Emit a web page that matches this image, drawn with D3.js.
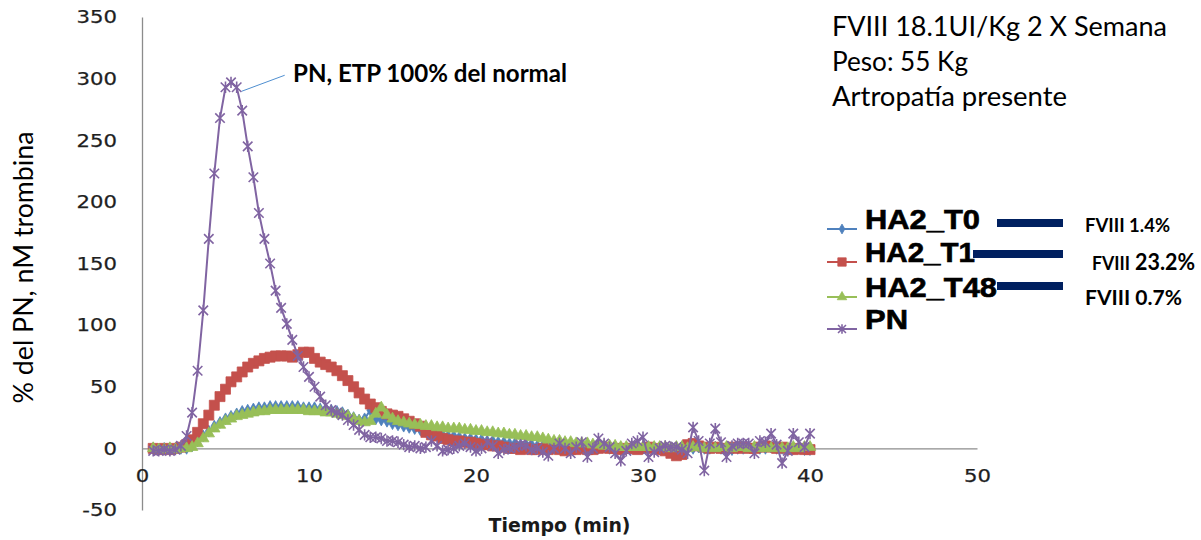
<!DOCTYPE html>
<html>
<head>
<meta charset="utf-8">
<script src="https://cdn.jsdelivr.net/npm/d3@7"></script>
<style>
  body { margin: 0; background: #ffffff; }
  svg { display: block; }
</style>
</head>
<body>
<svg id="chart" width="1201" height="540"></svg>
<script>
// Sampling times (min), one reading every 20 s
const tiempo = [
  0.67, 1.00, 1.33, 1.67, 2.00, 2.33, 2.67, 3.00, 3.33, 3.67,
  4.00, 4.33, 4.67, 5.00, 5.33, 5.67, 6.00, 6.33, 6.67, 7.00,
  7.33, 7.67, 8.00, 8.33, 8.67, 9.00, 9.33, 9.67, 10.00, 10.33,
  10.67, 11.00, 11.33, 11.67, 12.00, 12.33, 12.67, 13.00, 13.33, 13.67,
  14.00, 14.33, 14.67, 15.00, 15.33, 15.67, 16.00, 16.33, 16.67, 17.00,
  17.33, 17.67, 18.00, 18.33, 18.67, 19.00, 19.33, 19.67, 20.00, 20.33,
  20.67, 21.00, 21.33, 21.67, 22.00, 22.33, 22.67, 23.00, 23.33, 23.67,
  24.00, 24.33, 24.67, 25.00, 25.33, 25.67, 26.00, 26.33, 26.67, 27.00,
  27.33, 27.67, 28.00, 28.33, 28.67, 29.00, 29.33, 29.67, 30.00, 30.33,
  30.67, 31.00, 31.33, 31.67, 32.00, 32.33, 32.67, 33.00, 33.33, 33.67,
  34.00, 34.33, 34.67, 35.00, 35.33, 35.67, 36.00, 36.33, 36.67, 37.00,
  37.33, 37.67, 38.00, 38.33, 38.67, 39.00, 39.33, 39.67, 40.00
];

// Thrombin generation, % of normal pool
const ha2T0 = [
  0, -1, 0, -1, 0, 0, 0, 2, 6, 10,
  14, 18, 21, 24, 26, 28, 30, 31, 32, 33,
  33, 34, 34, 34, 34, 34, 34, 33, 33, 33,
  32, 32, 31, 30, 29, 27, 25, 23, 24, 31,
  24, 23, 22, 20, 19, 18, 17, 16, 15, 14,
  13, 12, 11, 10, 10, 9, 8, 8, 7, 7,
  6, 6, 5, 5, 4, 4, 3, 3, 3, 2,
  2, 2, 2, 1, 1, 1, 1, 1, 0, 0,
  0, 1, 0, 0, -1, 0, 0, 1, 0, 0,
  0, 0, -1, 0, 0, 1, 0, 0, 1, 0,
  0, 1, 0, 0, -1, 0, 0, 1, 0, 0,
  0, 1, 0, 0, -1, 0, 0, -1, -1
];

const ha2T1 = [
  0, -1, 0, -1, 0, 1, 3, 7, 13, 20,
  27, 35, 42, 48, 54, 58, 62, 66, 69, 71,
  73, 74, 75, 75, 75, 74, 76, 78, 78, 73,
  70, 68, 66, 63, 59, 55, 50, 45, 40, 36,
  33, 30, 28, 27, 26, 24, 22, 20, 18, 13,
  11, 10, 8, 7, 6, 6, 5, 5, 4, 3,
  3, 2, 2, 1, 0, 0, -1, 0, -1, -1,
  0, -1, 0, -1, -2, -1, -1, 0, -1, -1,
  0, 1, 0, 0, -1, 0, 0, -1, 0, 1,
  0, -1, -2, -4, -6, -5, 3, 4, 2, 1,
  0, 1, 0, 0, 1, 0, 1, 0, 0, 1,
  2, 1, 0, 1, 0, -1, 0, -1, -1
];

const ha2T48 = [
  0, -1, -1, 0, -1, 0, 0, 1, 4, 8,
  12, 16, 19, 22, 24, 26, 27, 28, 29, 30,
  30, 31, 31, 31, 31, 31, 31, 31, 30, 30,
  30, 29, 29, 28, 27, 26, 24, 22, 21, 22,
  28, 33, 27, 24, 22, 21, 20, 19, 19, 18,
  18, 17, 17, 16, 16, 16, 15, 15, 14, 14,
  13, 13, 12, 12, 11, 11, 10, 10, 9, 9,
  8, 7, 6, 6, 5, 5, 4, 4, 4, 3,
  3, 2, 2, 2, 1, 1, 1, 1, 1, 1,
  1, 1, 1, 0, 1, 1, 0, 1, 1, 0,
  1, 0, 1, 1, 0, 1, 1, 0, 1, 0,
  1, 0, 1, 0, 0, 1, 0, 1, 1
];

const pn = [
  -2, -2, -1, -2, -1, 2, 10, 29, 63, 112,
  170, 223, 268, 293, 297, 293, 274, 245, 220, 191,
  170, 150, 128, 114, 101, 88, 75, 66, 58, 50,
  42, 35, 31, 29, 27, 23, 19, 15, 11, 9,
  9, 8, 6, 6, 5, 3, 1, 2, 0, 1,
  6, 2, -2, -1, 0, 2, 4, 1, -2, 0,
  5, 2, -4, -1, 0, 1, 3, 2, -1, 0,
  -3, -6, 0, 4, 0, -4, 1, 5, -7, 0,
  8, 4, 1, -4, -10, -2, 4, 6, 9, -7,
  -3, 0, 2, 1, 1, -1, -4, 17, 6, -18,
  4, 16, 5, -7, 2, 4, 4, 4, -4, 6,
  5, 12, 3, -12, -2, 12, 5, 1, 12
];

const seriesNames = ["HA2_T0", "HA2_T1", "HA2_T48", "PN"];
const xTicks = [0, 10, 20, 30, 40, 50];
const yTicks = [-50, 0, 50, 100, 150, 200, 250, 300, 350];
const infoLines = ["FVIII 18.1UI/Kg 2 X Semana", "Peso: 55 Kg", "Artropatía presente"];
const fviiiLevels = ["1.4%", "23.2%", "0.7%"];
const peakLabel = "PN, ETP 100% del normal";
const yTitle = "% del PN, nM trombina";
const xTitle = "Tiempo (min)";

// ---------------------------------------------------------------
const svg = d3.select("#chart");
const x = d3.scaleLinear().domain([0, 50]).range([142, 977]);
const y = d3.scaleLinear().domain([-50, 350]).range([510, 17]);

// Asterisk-style marker (X with a vertical stroke)
const starSymbol = {
  draw(ctx, size) {
    const r = Math.sqrt(size) / 2;
    ctx.moveTo(-r, -r); ctx.lineTo(r, r);
    ctx.moveTo(-r, r); ctx.lineTo(r, -r);
    ctx.moveTo(0, -r * 1.2); ctx.lineTo(0, r * 1.2);
  }
};

const styles = [
  { color: "#4f81bd", symbol: d3.symbolDiamond, size: 40, filled: true },
  { color: "#c4504c", symbol: d3.symbolSquare, size: 100, filled: true },
  { color: "#98bf58", symbol: d3.symbolTriangle, size: 56, filled: true },
  { color: "#8064a2", symbol: starSymbol, size: 90, filled: false }
];
const seriesValues = [ha2T0, ha2T1, ha2T48, pn];

function stretch(sel, k) {
  sel.each(function () {
    const w = this.getComputedTextLength();
    this.setAttribute("textLength", (w * k).toFixed(1));
    this.setAttribute("lengthAdjust", "spacingAndGlyphs");
  });
}

// Axes (plain hyphen for negative labels)
const fmt = d => String(d);
const yAxis = svg.append("g")
  .attr("transform", `translate(${x(0)},0)`)
  .call(d3.axisLeft(y).tickValues(yTicks).tickFormat(fmt).tickSize(0).tickPadding(25));
const xAxis = svg.append("g")
  .attr("transform", `translate(0,${y(0)})`)
  .call(d3.axisBottom(x).tickValues(xTicks).tickFormat(fmt).tickSize(0).tickPadding(21));
[yAxis, xAxis].forEach(ax => {
  ax.select(".domain").attr("stroke", "#8c8c8c").attr("stroke-width", 1.3);
  ax.selectAll("text")
    .attr("font-family", "DejaVu Sans")
    .attr("font-size", 18)
    .attr("fill", "#1f1f1f")
    .attr("stroke", "#1f1f1f")
    .attr("stroke-width", 0.25);
  stretch(ax.selectAll("text"), 1.18);
});

// Series: lines then markers
seriesValues.forEach((vals, si) => {
  const st = styles[si];
  const pts = tiempo.map((t, i) => [t, vals[i]]);
  const g = svg.append("g").attr("class", "series-" + si);
  g.append("path")
    .datum(pts)
    .attr("fill", "none")
    .attr("stroke", st.color)
    .attr("stroke-width", 2)
    .attr("d", d3.line().x(d => x(d[0])).y(d => y(d[1])));
  const sym = d3.symbol().type(st.symbol).size(st.size);
  g.selectAll("path.m")
    .data(pts)
    .join("path")
    .attr("class", "m")
    .attr("transform", d => `translate(${x(d[0])},${y(d[1])})`)
    .attr("d", sym)
    .attr("fill", st.filled ? st.color : "none")
    .attr("stroke", st.color)
    .attr("stroke-width", st.filled ? 0.8 : 1.6);
});

// Peak annotation for the normal pool
const iPeak = pn.indexOf(d3.max(pn));
const px0 = x(tiempo[iPeak + 1]) + 5, py0 = y(pn[iPeak + 1]) + 4;
svg.append("line")
  .attr("x1", px0).attr("y1", py0)
  .attr("x2", px0 + 43).attr("y2", py0 - 16)
  .attr("stroke", "#4f8fd0").attr("stroke-width", 1);
svg.append("text")
  .attr("x", 293).attr("y", 82)
  .attr("font-family", "Lato").attr("font-weight", 700).attr("font-size", 24)
  .attr("fill", "#000")
  .attr("textLength", 274).attr("lengthAdjust", "spacingAndGlyphs")
  .text(peakLabel);

// Axis titles
svg.append("text")
  .attr("transform", `translate(33,${y(150) + 4}) rotate(-90)`)
  .attr("text-anchor", "middle")
  .attr("font-family", "Lato").attr("font-size", 27)
  .attr("fill", "#000")
  .attr("textLength", 272).attr("lengthAdjust", "spacingAndGlyphs")
  .text(yTitle);
svg.append("text")
  .attr("x", x(25)).attr("y", 532)
  .attr("text-anchor", "middle")
  .attr("font-family", "DejaVu Sans").attr("font-weight", 700).attr("font-size", 19)
  .attr("fill", "#1a1a1a")
  .attr("textLength", 142).attr("lengthAdjust", "spacingAndGlyphs")
  .text(xTitle);

// Patient information block
const infoWidths = [335, 136, 235];
infoLines.forEach((s, i) => {
  svg.append("text")
    .attr("x", 832).attr("y", 36 + i * 35)
    .attr("font-family", "Lato").attr("font-size", 26)
    .attr("fill", "#000")
    .attr("textLength", infoWidths[i]).attr("lengthAdjust", "spacingAndGlyphs")
    .text(s);
});

// Legend
const legendY = [229, 262, 297, 329];
const legendW = [115, 110, 132, 43];
seriesNames.forEach((name, si) => {
  const st = styles[si];
  const g = svg.append("g").attr("transform", `translate(0,${legendY[si]})`);
  g.append("line").attr("x1", 827).attr("x2", 857).attr("y1", 0).attr("y2", 0)
    .attr("stroke", st.color).attr("stroke-width", 2);
  g.append("path")
    .attr("transform", "translate(842,0)")
    .attr("d", d3.symbol().type(st.symbol).size(st.size * 0.7)())
    .attr("fill", st.filled ? st.color : "none")
    .attr("stroke", st.color)
    .attr("stroke-width", st.filled ? 0.8 : 1.6);
  g.append("text")
    .attr("x", 865).attr("y", 0)
    .attr("font-family", "Liberation Sans").attr("font-weight", 700).attr("font-size", 27)
    .attr("fill", "#000")
    .attr("stroke", "#000").attr("stroke-width", 0.6)
    .attr("textLength", legendW[si]).attr("lengthAdjust", "spacingAndGlyphs")
    .text(name);
});

// FVIII level markers
const barSpec = [
  { x0: 997, cy: 223 },
  { x0: 973, cy: 254 },
  { x0: 997, cy: 286 }
];
barSpec.forEach(b => {
  svg.append("rect")
    .attr("x", b.x0).attr("y", b.cy - 4)
    .attr("width", 1063 - b.x0).attr("height", 8)
    .attr("fill", "#002060");
});
const fv = [
  { x: 1085, y: 232, size: 18, w: 85 },
  { x: 1092, y: 270, size: 18, w: 38 },
  { x: 1085, y: 305, size: 20, w: 97 }
];
svg.append("text").attr("x", fv[0].x).attr("y", fv[0].y)
  .attr("font-family", "Lato").attr("font-weight", 700).attr("font-size", fv[0].size)
  .attr("textLength", fv[0].w).attr("lengthAdjust", "spacingAndGlyphs")
  .text("FVIII " + fviiiLevels[0]);
svg.append("text").attr("x", fv[1].x).attr("y", fv[1].y)
  .attr("font-family", "Lato").attr("font-weight", 700).attr("font-size", fv[1].size)
  .attr("textLength", fv[1].w).attr("lengthAdjust", "spacingAndGlyphs")
  .text("FVIII");
svg.append("text").attr("x", 1135).attr("y", fv[1].y)
  .attr("font-family", "Lato").attr("font-weight", 700).attr("font-size", 22)
  .attr("textLength", 60).attr("lengthAdjust", "spacingAndGlyphs")
  .text(fviiiLevels[1]);
svg.append("text").attr("x", fv[2].x).attr("y", fv[2].y)
  .attr("font-family", "Lato").attr("font-weight", 700).attr("font-size", fv[2].size)
  .attr("textLength", fv[2].w).attr("lengthAdjust", "spacingAndGlyphs")
  .text("FVIII " + fviiiLevels[2]);
</script>
</body>
</html>
